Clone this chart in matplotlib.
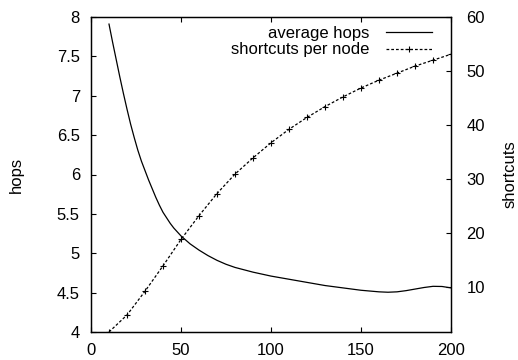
import matplotlib

matplotlib.use("Agg")
import matplotlib.pyplot as plt

plt.rcParams["font.family"] = ["Liberation Sans", "DejaVu Sans"]
plt.rcParams["font.size"] = 12

# average number of hops against network size (finer steps where it drops fast)
hops_x = [10, 12, 14, 16, 18, 20, 22, 24, 26, 28, 30, 32, 34, 36, 38, 40,
          42, 44, 46, 48, 50, 55, 60, 65, 70, 75, 80, 90, 100, 110, 120,
          130, 140, 150, 160, 165, 170, 175, 180, 185, 190, 195, 200]
hops = [7.91, 7.68, 7.46, 7.24, 7.03, 6.83, 6.64, 6.47, 6.31, 6.17, 6.05,
        5.93, 5.82, 5.71, 5.61, 5.52, 5.45, 5.38, 5.32, 5.27, 5.22, 5.12,
        5.04, 4.97, 4.91, 4.86, 4.82, 4.76, 4.71, 4.67, 4.63, 4.59, 4.56,
        4.53, 4.51, 4.505, 4.51, 4.525, 4.545, 4.565, 4.58, 4.578, 4.56]

# shortcuts kept per node
shortcut_x = [10, 20, 30, 40, 50, 60, 70, 80, 90, 100,
              110, 120, 130, 140, 150, 160, 170, 180, 190, 200]
shortcuts = [1.65, 4.8, 9.2, 13.9, 18.8, 23.2, 27.3, 30.9, 33.9, 36.7,
             39.2, 41.4, 43.4, 45.2, 46.85, 48.3, 49.6, 50.9, 52.0, 53.1]

xticks = [0, 50, 100, 150, 200]
hops_ticks = [4, 4.5, 5, 5.5, 6, 6.5, 7, 7.5, 8]
shortcut_ticks = [10, 20, 30, 40, 50, 60]


def tick_label(v):
    return "%g" % v


def plot_hops_shortcuts():
    fig = plt.figure(figsize=(5.18, 3.6), dpi=100)
    ax = fig.add_axes([91 / 518, 28 / 360, 360 / 518, 315 / 360])
    ax2 = ax.twinx()

    l1, = ax.plot(hops_x, hops, color="black", lw=0.9)
    l2, = ax2.plot(shortcut_x, shortcuts, color="black", lw=0.9,
                   linestyle=(0, (2.2, 1.6)), marker="+", markersize=4,
                   markeredgewidth=0.8)

    ax.set_xlim(0, 200)
    ax.set_ylim(4, 8)
    ax2.set_ylim(1.65, 60)
    ax.set_xticks(xticks)
    ax.set_xticklabels([tick_label(v) for v in xticks])
    ax.set_yticks(hops_ticks)
    ax.set_yticklabels([tick_label(v) for v in hops_ticks])
    ax2.set_yticks(shortcut_ticks)

    ax.tick_params(axis="x", direction="in", top=True, length=3.5, width=0.8, pad=8)
    ax.tick_params(axis="y", direction="in", right=False, length=3.5, width=0.8, pad=8)
    ax2.tick_params(axis="y", direction="in", length=3.5, width=0.8, pad=11)
    for a in (ax, ax2):
        for s in a.spines.values():
            s.set_linewidth(0.9)

    ax.set_ylabel("hops", labelpad=24)
    ax2.set_ylabel("shortcuts", labelpad=13)

    ax.legend([l1, l2], ["average hops", "shortcuts per node"],
              loc="upper right", bbox_to_anchor=(0.99, 1.02), frameon=False,
              markerfirst=False, handlelength=2.8, handletextpad=1.0,
              labelspacing=0.1, numpoints=1)

    fig.savefig("out.png", dpi=100)
    return fig, ax


if __name__ == "__main__":
    plot_hops_shortcuts()
